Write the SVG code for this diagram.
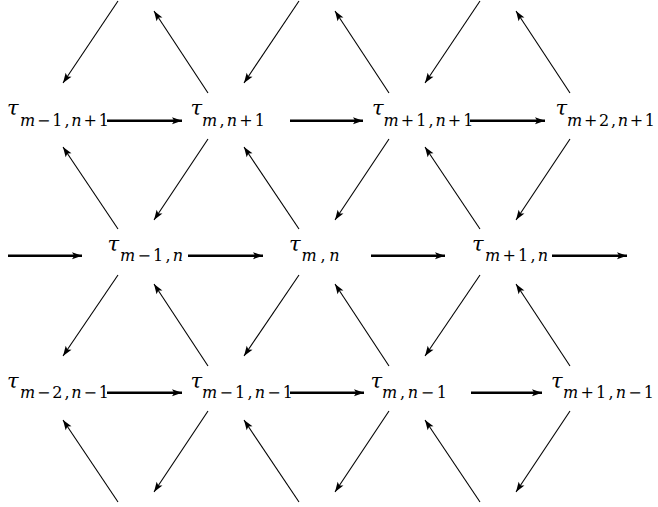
<svg xmlns="http://www.w3.org/2000/svg" width="658" height="507" viewBox="0 0 658 507">
<style>
.t{font-family:"DejaVu Serif","Liberation Serif",serif;font-style:italic;font-size:21px;fill:#000}
.s{font-family:"DejaVu Serif","Liberation Serif",serif;font-size:16px;fill:#000}
.i{font-style:italic}
.d{stroke:#000;stroke-width:1.1;fill:none;marker-end:url(#ah)}
.h{stroke:#000;stroke-width:2.6;fill:none;marker-end:url(#ah)}
</style>
<defs>
<marker id="ah" markerUnits="userSpaceOnUse" markerWidth="12" markerHeight="9" refX="10" refY="3.5" orient="auto" overflow="visible">
<path d="M0,0 L10,3.5 L0,7 L2.2,3.5 z" fill="#000"/>
</marker>
</defs>
<rect width="658" height="507" fill="#fff"/>
<g id="connectors">
<line class="d" x1="118" y1="1" x2="63" y2="83"/>
<line class="d" x1="299" y1="1" x2="244" y2="83"/>
<line class="d" x1="480" y1="1" x2="425" y2="83"/>
<line class="d" x1="208" y1="93" x2="154" y2="11"/>
<line class="d" x1="389" y1="93" x2="335" y2="11"/>
<line class="d" x1="570" y1="93" x2="516" y2="11"/>
<line class="d" x1="118" y1="229" x2="63" y2="147"/>
<line class="d" x1="299" y1="229" x2="244" y2="147"/>
<line class="d" x1="480" y1="229" x2="425" y2="147"/>
<line class="d" x1="208" y1="139" x2="154" y2="220"/>
<line class="d" x1="389" y1="139" x2="335" y2="220"/>
<line class="d" x1="570" y1="139" x2="516" y2="220"/>
<line class="d" x1="118" y1="275" x2="63" y2="356"/>
<line class="d" x1="299" y1="275" x2="244" y2="356"/>
<line class="d" x1="480" y1="275" x2="425" y2="356"/>
<line class="d" x1="208" y1="366" x2="154" y2="284"/>
<line class="d" x1="389" y1="366" x2="335" y2="284"/>
<line class="d" x1="570" y1="366" x2="516" y2="284"/>
<line class="d" x1="118" y1="502" x2="63" y2="420"/>
<line class="d" x1="299" y1="502" x2="244" y2="420"/>
<line class="d" x1="480" y1="502" x2="425" y2="420"/>
<line class="d" x1="208" y1="411" x2="154" y2="492"/>
<line class="d" x1="389" y1="411" x2="335" y2="492"/>
<line class="d" x1="570" y1="411" x2="516" y2="492"/>
<line class="h" x1="107" y1="120.7" x2="182" y2="120.7"/>
<line class="h" x1="290" y1="120.7" x2="363" y2="120.7"/>
<line class="h" x1="470" y1="120.7" x2="545" y2="120.7"/>
<line class="h" x1="8" y1="255.7" x2="82" y2="255.7"/>
<line class="h" x1="188" y1="255.7" x2="263" y2="255.7"/>
<line class="h" x1="371" y1="255.7" x2="445" y2="255.7"/>
<line class="h" x1="552" y1="255.7" x2="627" y2="255.7"/>
<line class="h" x1="107" y1="392.7" x2="182" y2="392.7"/>
<line class="h" x1="290" y1="392.7" x2="364" y2="392.7"/>
<line class="h" x1="471" y1="392.7" x2="542" y2="392.7"/>
</g>
<g id="n-m-1-n+1"><text class="t" x="7" y="115">τ</text><text class="s" x="20" y="125.5" textLength="89" lengthAdjust="spacing"><tspan class="i">m</tspan>−1,<tspan class="i">n</tspan>+1</text></g>
<g id="n-m-n+1"><text class="t" x="190.5" y="115">τ</text><text class="s" x="202" y="125.5" textLength="63" lengthAdjust="spacing"><tspan class="i">m</tspan>,<tspan class="i">n</tspan>+1</text></g>
<g id="n-m+1-n+1"><text class="t" x="372" y="115">τ</text><text class="s" x="383.5" y="125.5" textLength="90" lengthAdjust="spacing"><tspan class="i">m</tspan>+1,<tspan class="i">n</tspan>+1</text></g>
<g id="n-m+2-n+1"><text class="t" x="555.5" y="115">τ</text><text class="s" x="567" y="125.5" textLength="88" lengthAdjust="spacing"><tspan class="i">m</tspan>+2,<tspan class="i">n</tspan>+1</text></g>
<g id="n-m-1-n"><text class="t" x="107.5" y="250.5">τ</text><text class="s" x="120" y="261" textLength="63" lengthAdjust="spacing"><tspan class="i">m</tspan>−1,<tspan class="i">n</tspan></text></g>
<g id="n-m-n"><text class="t" x="289" y="250.5">τ</text><text class="s" x="301.5" y="261" textLength="38" lengthAdjust="spacing"><tspan class="i">m</tspan>,<tspan class="i">n</tspan></text></g>
<g id="n-m+1-n"><text class="t" x="472" y="250.5">τ</text><text class="s" x="485" y="261" textLength="63" lengthAdjust="spacing"><tspan class="i">m</tspan>+1,<tspan class="i">n</tspan></text></g>
<g id="n-m-2-n-1"><text class="t" x="7" y="387.5">τ</text><text class="s" x="20" y="398" textLength="89" lengthAdjust="spacing"><tspan class="i">m</tspan>−2,<tspan class="i">n</tspan>−1</text></g>
<g id="n-m-1-n-1"><text class="t" x="190.5" y="387.5">τ</text><text class="s" x="202" y="398" textLength="91" lengthAdjust="spacing"><tspan class="i">m</tspan>−1,<tspan class="i">n</tspan>−1</text></g>
<g id="n-m-n-1"><text class="t" x="370.5" y="387.5">τ</text><text class="s" x="382" y="398" textLength="65" lengthAdjust="spacing"><tspan class="i">m</tspan>,<tspan class="i">n</tspan>−1</text></g>
<g id="n-m+1-n-1"><text class="t" x="551" y="387.5">τ</text><text class="s" x="563" y="398" textLength="91" lengthAdjust="spacing"><tspan class="i">m</tspan>+1,<tspan class="i">n</tspan>−1</text></g>
</svg>
